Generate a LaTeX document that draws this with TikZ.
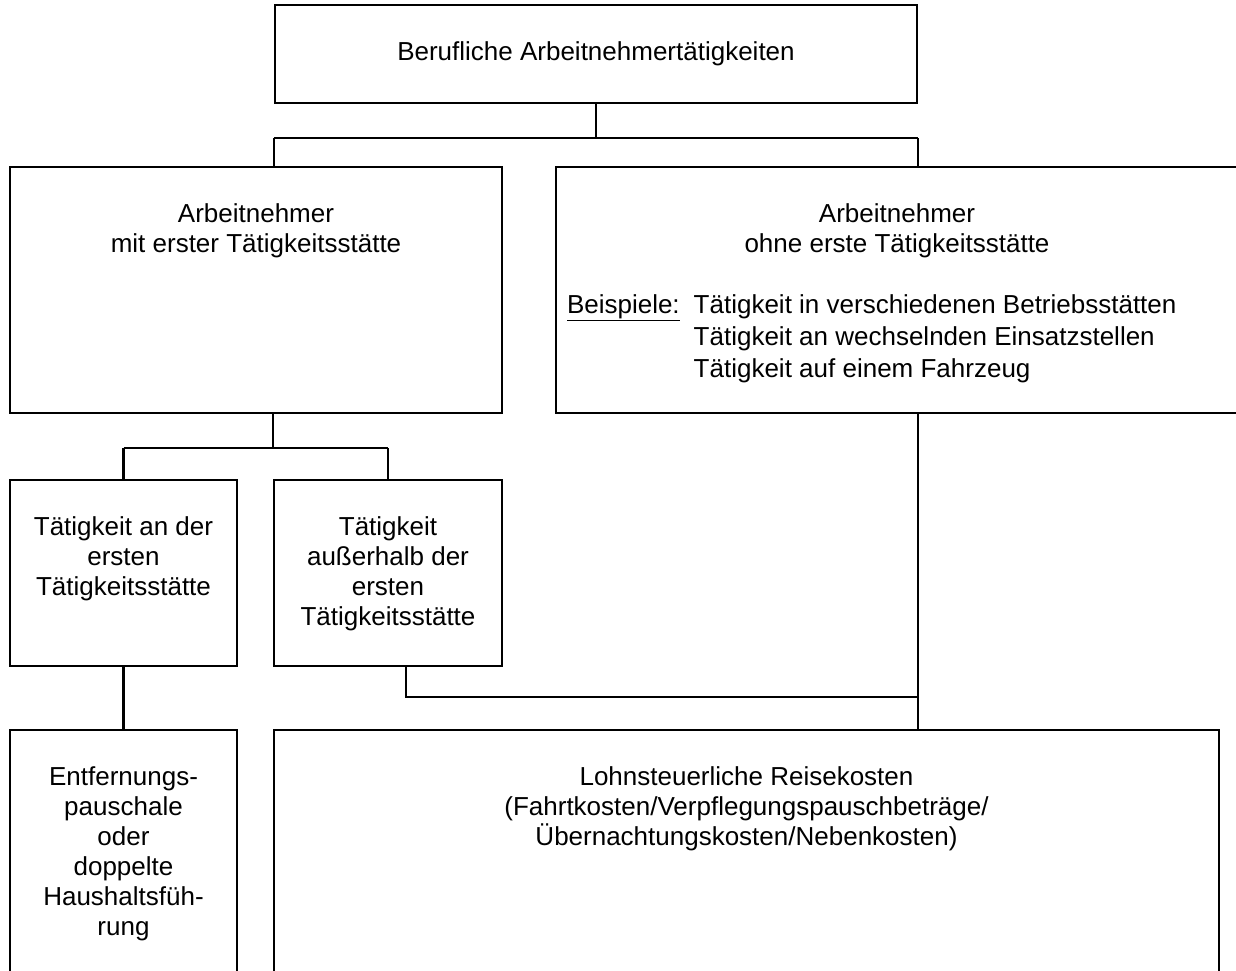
\documentclass[tikz,border=0pt]{standalone}
\usepackage{fontspec}
\setmainfont{Liberation Sans}
\usetikzlibrary{positioning}

\tikzset{
  box/.style={draw, line width=2.4pt, rectangle, inner sep=0pt},
  txt/.style={align=center, inner sep=0pt, font=\fontsize{26}{30}\selectfont},
  link/.style={line width=2.4pt},
}

\begin{document}
\begin{tikzpicture}[x=1pt,y=-1pt]
\clip (0,0) rectangle (1236,971);

% boxes
\node[box, minimum width=642pt, minimum height=98pt] (top) at (596,54) {};
\node[box, minimum width=492pt, minimum height=246pt] (mit) at (256,290) {};
\node[box, minimum width=682pt, minimum height=246pt] (ohne) at (897,290) {};
\node[box, minimum width=227pt, minimum height=186pt] (an) at (123.5,573) {};
\node[box, minimum width=228pt, minimum height=186pt] (aus) at (388,573) {};
\node[box, minimum width=227pt, minimum height=300pt] (entf) at (123.5,880) {};
\node[box, minimum width=945pt, minimum height=300pt] (lohn) at (746.5,880) {};

% texts
\node[txt] (toptxt) at (top) {Berufliche Arbeitnehmertätigkeiten};
\node[txt, below=38pt of mit.north] (mittxt) {Arbeitnehmer\\mit erster Tätigkeitsstätte};
\node[txt, below=38pt of ohne.north] (ohnetxt) {Arbeitnehmer\\ohne erste Tätigkeitsstätte};
\node[txt, align=left, anchor=north west] (bsp) at ([xshift=12pt,yshift=-125pt]ohne.north west)
  {\renewcommand{\arraystretch}{1.07}%
   \begin{tabular}{@{}l@{\hspace{14pt}}l@{}}
   \underline{Beispiele:} & Tätigkeit in verschiedenen Betriebsstätten\\
   & Tätigkeit an wechselnden Einsatzstellen\\
   & Tätigkeit auf einem Fahrzeug
   \end{tabular}};
\node[txt, below=38pt of an.north] (antxt) {Tätigkeit an der\\ersten\\Tätigkeitsstätte};
\node[txt, below=38pt of aus.north] (austxt) {Tätigkeit\\außerhalb der\\ersten\\Tätigkeitsstätte};
\node[txt, below=38pt of entf.north] (entftxt) {Entfernungs-\\pauschale\\oder\\doppelte\\Haushaltsfüh-\\rung};
\node[txt, below=38pt of lohn.north] (lohntxt) {Lohnsteuerliche Reisekosten\\(Fahrtkosten/Verpflegungspauschbeträge/\\Übernachtungskosten/Nebenkosten)};

% connectors
\draw[link] (top.south) -- ++(0,34) coordinate (j1);
\draw[link] (top.south west |- j1) -- (top.south east |- j1);
\draw[link] (top.south west |- j1) -- (top.south west |- mit.north);
\draw[link] (top.south east |- j1) -- (top.south east |- ohne.north);

\draw[link] (aus.north west |- mit.south) -- ++(0,34) coordinate (j2);
\draw[link] (an.north |- j2) -- (aus.north |- j2);
\draw[link] (an.north |- j2) -- (an.north);
\draw[link] (aus.north |- j2) -- (aus.north);

\draw[link] (an.south) -- (entf.north);
\draw[link] (top.south east |- ohne.south) -- (top.south east |- lohn.north);
\draw[link] ([xshift=18pt]aus.south) |- (top.south east |- 0,697);
\end{tikzpicture}
\end{document}
